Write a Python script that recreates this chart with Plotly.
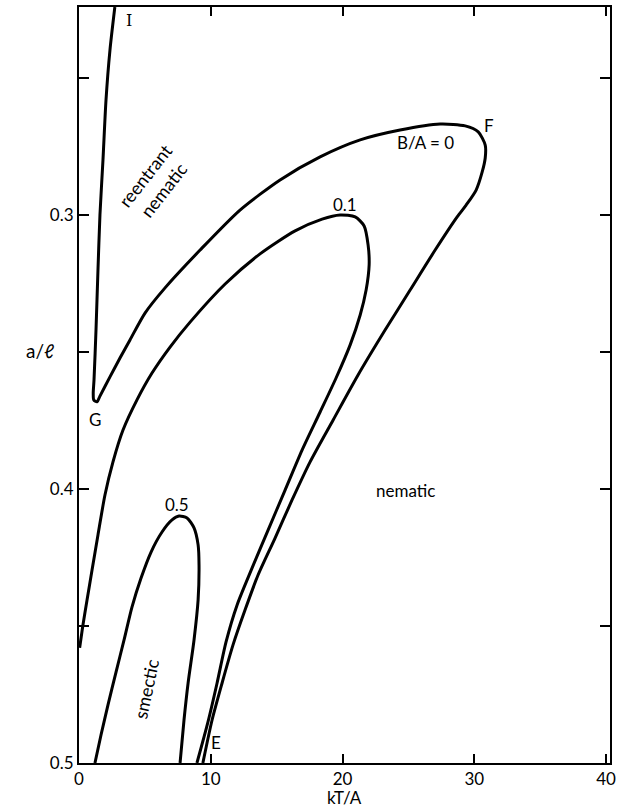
import plotly.graph_objects as go

# ---- data (kT/A, a/l) ----
# B/A = 0 : from I (top) down to G, up and over F, down to E
x_b0 = [2.72, 2.35, 2.05, 1.82, 1.59, 1.44, 1.29, 1.14, 1.08, 1.12, 1.37, 1.59, 2.35, 3.11,
        3.87, 5.01, 6.53, 9.19, 12.22, 15.26, 18.30, 21.34, 24.37, 27.41, 29.31, 30.30,
        30.83, 30.83, 30.60, 30.14, 29.38, 28.70, 27.03, 25.13, 23.23, 21.18, 19.29,
        17.54, 16.17, 14.88, 13.59, 12.60, 11.69, 10.86, 10.10, 9.40]
y_b0 = [0.2241, 0.2398, 0.2580, 0.2799, 0.3000, 0.3201, 0.3420, 0.3602, 0.3650, 0.3675,
        0.3682, 0.3661, 0.3591, 0.3522, 0.3456, 0.3358, 0.3266, 0.3128, 0.2982, 0.2872,
        0.2788, 0.2726, 0.2690, 0.2668, 0.2675, 0.2697, 0.2745, 0.2792, 0.2843, 0.2909,
        0.2964, 0.3007, 0.3128, 0.3274, 0.3420, 0.3584, 0.3748, 0.3901, 0.4040, 0.4179,
        0.4314, 0.4442, 0.4569, 0.4708, 0.4843, 0.5000]

# B/A = 0.1
x_b01 = [0.05, 0.30, 0.61, 0.99, 1.44, 1.97, 2.58, 3.34, 4.40, 5.54, 6.91, 8.43, 11.09,
         13.74, 16.40, 18.45, 19.82, 20.96, 21.64, 21.94, 22.02, 21.79, 21.34, 20.58,
         19.51, 18.30, 16.93, 15.64, 14.35, 13.14, 12.00, 11.16, 10.48, 9.79, 8.95]
y_b01 = [0.4580, 0.4496, 0.4405, 0.4296, 0.4168, 0.4022, 0.3901, 0.3785, 0.3675, 0.3577,
         0.3482, 0.3391, 0.3252, 0.3142, 0.3058, 0.3015, 0.3000, 0.3007, 0.3040, 0.3109,
         0.3182, 0.3274, 0.3365, 0.3474, 0.3595, 0.3719, 0.3858, 0.4004, 0.4150, 0.4288,
         0.4423, 0.4558, 0.4708, 0.4850, 0.5000]

# B/A = 0.5
x_b05 = [1.21, 1.67, 2.20, 2.81, 3.42, 4.02, 4.71, 5.47, 6.30, 7.06, 7.59, 8.20, 8.73,
         9.04, 9.11, 9.04, 8.73, 8.28, 7.97, 7.67]
y_b05 = [0.5000, 0.4898, 0.4788, 0.4668, 0.4551, 0.4431, 0.4325, 0.4230, 0.4157, 0.4113,
         0.4099, 0.4106, 0.4142, 0.4204, 0.4277, 0.4405, 0.4551, 0.4708, 0.4843, 0.5000]

x_ticks = [0, 10, 20, 30, 40]
x_labels = ["0", "10", "20", "30", "40"]
y_ticks = [0.25, 0.30, 0.35, 0.40, 0.45, 0.50]
y_labels = ["", "0.3", "", "0.4", "", "0.5"]

FONT = "Lato"
fig = go.Figure()
for xs, ys in [(x_b0, y_b0), (x_b01, y_b01), (x_b05, y_b05)]:
    fig.add_trace(go.Scatter(x=xs, y=ys, mode="lines",
                             line=dict(color="black", width=3, shape="spline", smoothing=0.7),
                             hoverinfo="skip", showlegend=False, cliponaxis=True))

def ann(text, x, y, size=16, angle=0, family=FONT):
    fig.add_annotation(x=x, y=y, text=text, showarrow=False, textangle=angle,
                       font=dict(family=family, size=size, color="black"),
                       xanchor="center", yanchor="middle")

ann("I", 3.8, 0.2290, size=16, family="DejaVu Serif")
ann("F", 31.1, 0.2672, size=17)
ann("B/A = 0", 26.3, 0.2737, size=17)
ann("0.1", 20.2, 0.2962, size=17)
ann("0.5", 7.45, 0.4055, size=17)
ann("G", 1.25, 0.3745, size=17)
ann("E", 10.4, 0.4925, size=17)
ann("reentrant<br>nematic", 5.7, 0.2880, size=18, angle=-52)
ann("smectic", 5.1, 0.4730, size=18, angle=-78)
ann("nematic", 24.8, 0.4004, size=17)

fig.add_annotation(xref="paper", yref="paper", x=-0.073, y=0.546, text="a/ℓ",
                   showarrow=False, font=dict(family=FONT, size=19, color="black"),
                   xanchor="center", yanchor="middle")
fig.add_annotation(xref="paper", yref="paper", x=0.50, y=-0.0285, text="kT/A",
                   showarrow=False, font=dict(family=FONT, size=17, color="black"),
                   xanchor="center", yanchor="top")

fig.update_xaxes(range=[0, 40.3], tickvals=x_ticks, ticktext=x_labels, ticks="inside",
                 ticklen=9, tickwidth=1.5, tickcolor="black", showline=True, linecolor="black",
                 linewidth=2, mirror="ticks", showgrid=False, zeroline=False, automargin=False,
                 ticklabeloverflow="allow",
                 tickfont=dict(family=FONT, size=17, color="black"))
fig.update_yaxes(range=[0.5, 0.2241], tickvals=y_ticks, ticktext=y_labels, ticks="inside",
                 ticklen=10, tickwidth=1.5, tickcolor="black", showline=True, linecolor="black",
                 linewidth=2, mirror="ticks", showgrid=False, zeroline=False, automargin=False,
                 ticklabeloverflow="allow",
                 tickfont=dict(family=FONT, size=17, color="black"))
fig.update_layout(width=617, height=808, margin=dict(l=79, r=7, t=7, b=45, autoexpand=False),
                  plot_bgcolor="white", paper_bgcolor="white")
# remove the page's default body margin so the figure fills the window exactly
fig.write_html("out.html", config={"displayModeBar": False},
               post_script="document.body.style.margin='0';document.body.style.overflow='hidden';")
